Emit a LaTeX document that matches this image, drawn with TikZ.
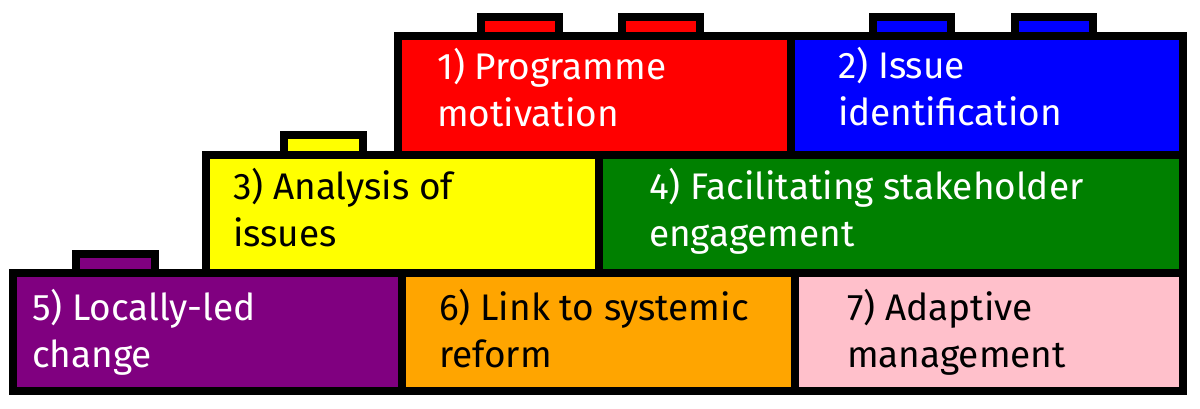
\documentclass[tikz,border=0pt]{standalone}
\usepackage{fontspec}
\setmainfont{Fira Sans}
\definecolor{legored}{HTML}{FF0000}
\definecolor{legoblue}{HTML}{0000FF}
\definecolor{legoyellow}{HTML}{FFFF00}
\definecolor{legogreen}{HTML}{008000}
\definecolor{legopurple}{HTML}{800080}
\definecolor{legoorange}{HTML}{FFA500}
\definecolor{legopink}{HTML}{FFC0CB}

\begin{document}
\begin{tikzpicture}[x=1bp,y=-1bp,line width=8bp,
   brick/.style={draw=black,fill=#1},
   lbl/.style={anchor=base west,align=left,inner sep=0pt,
      font=\fontsize{37bp}{47bp}\selectfont}]
   \useasboundingbox (0,0) rectangle (1200,408);

   \foreach \x in {481,622} \draw[brick=legored] (\x,36) rectangle ++(78,-19);
   \foreach \x in {873,1015} \draw[brick=legoblue] (\x,36) rectangle ++(78,-19);
   \draw[brick=legoyellow] (284,154.5) rectangle ++(79,-19.5);
   \draw[brick=legopurple] (76,273) rectangle ++(79,-19);

   \draw[brick=legored] (398,36) rectangle (791,154.5);
   \draw[brick=legoblue] (791,36) rectangle (1183,154.5);
   \draw[brick=legoyellow] (205.5,154.5) rectangle (598.5,273);
   \draw[brick=legogreen] (598.5,154.5) rectangle (1183,273);
   \draw[brick=legopurple] (13,273) rectangle (402,391);
   \draw[brick=legoorange] (402,273) rectangle (795,391);
   \draw[brick=legopink] (795,273) rectangle (1183,391);

   \node[lbl,text=white] (motiv) at (433,126) {1) Programme\\motivation};
   \node[lbl,text=white] (ident) at (834,125) {2) Issue\\identification};
   \node[lbl] (analys) at (229,246) {3) Analysis of\\issues};
   \node[lbl,text=white] (engage) at (645,246) {4) Facilitating stakeholder\\engagement};
   \node[lbl,text=white] (local) at (28,367) {5) Locally-led\\change};
   \node[lbl] (reform) at (435,367) {6) Link to systemic\\reform};
   \node[lbl] (adapt) at (843,367) {7) Adaptive\\management};
\end{tikzpicture}
\end{document}
